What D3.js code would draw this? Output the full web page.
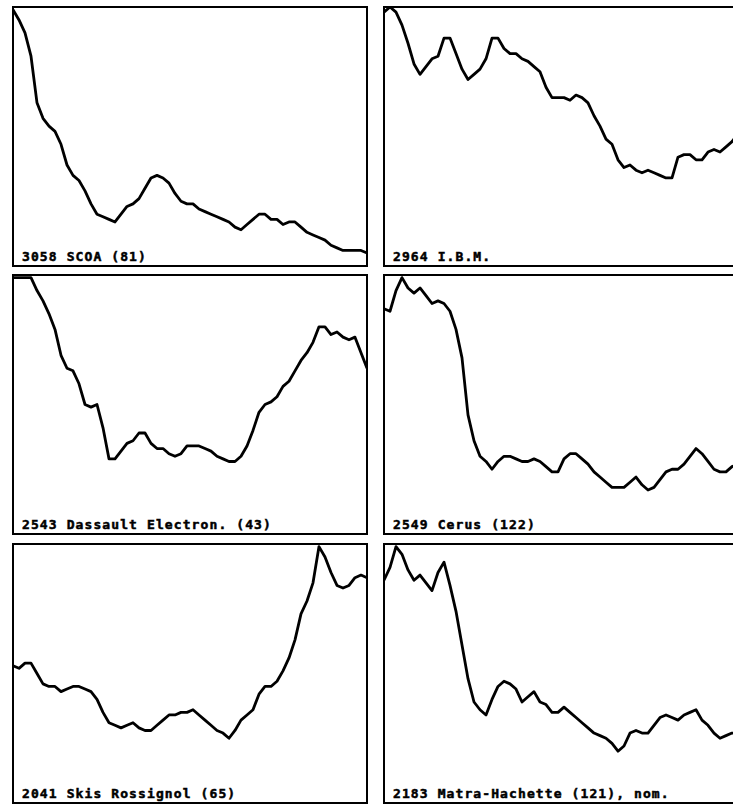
<!DOCTYPE html>
<html>
<head>
<meta charset="utf-8">
<script src="https://cdn.jsdelivr.net/npm/d3@7"></script>
<style>
  body { margin: 0; background: #fff; }
</style>
</head>
<body>
<div id="chart"></div>
<script>
// Panel titles, in reading order (left-right, top-bottom)
var titles = [
    "3058 SCOA (81)",
    "2964 I.B.M.",
    "2543 Dassault Electron. (43)",
    "2549 Cerus (122)",
    "2041 Skis Rossignol (65)",
    "2183 Matra-Hachette (121), nom."
];

// Each series: price level as % of panel height, equally spaced in time
var scoa = [99, 95, 90, 81, 63, 57, 54, 52, 47, 39, 35, 33, 29, 24, 20, 19, 18, 17, 20, 23,
    24, 26, 30, 34, 35, 34, 32, 28, 25, 24, 24, 22, 21, 20, 19, 18, 17, 15, 14, 16,
    18, 20, 20, 18, 18, 16, 17, 17, 15, 13, 12, 11, 10, 8, 7, 6, 6, 6, 6, 5];

var ibm = [98, 100, 98, 93, 86, 78, 74, 77, 80, 81, 88, 88, 82, 76, 72, 74, 76, 80, 88, 88,
    84, 82, 82, 80, 79, 77, 75, 69, 65, 65, 65, 64, 66, 65, 63, 58, 54, 49, 47, 41,
    38, 39, 37, 36, 37, 36, 35, 34, 34, 42, 43, 43, 41, 41, 44, 45, 44, 46, 48, 51];

var dassault = [99, 99, 99, 99, 94, 90, 85, 79, 69, 64, 63, 58, 50, 49, 50, 41, 29, 29, 32, 35,
    36, 39, 39, 35, 33, 33, 31, 30, 31, 34, 34, 34, 33, 32, 30, 29, 28, 28, 30, 34,
    40, 47, 50, 51, 53, 57, 59, 63, 67, 70, 74, 80, 80, 77, 78, 76, 75, 76, 70, 64];

var cerus = [87, 86, 94, 99, 95, 93, 95, 92, 89, 90, 89, 86, 79, 68, 46, 36, 30, 28, 25, 28,
    30, 30, 29, 28, 28, 29, 28, 26, 24, 24, 29, 31, 31, 29, 27, 24, 22, 20, 18, 18,
    18, 20, 22, 19, 17, 18, 21, 24, 25, 25, 27, 30, 33, 31, 28, 25, 24, 24, 26, 27];

var rossignol = [53, 52, 54, 54, 50, 46, 45, 45, 43, 44, 45, 45, 44, 43, 40, 35, 31, 30, 29, 30,
    31, 29, 28, 28, 30, 32, 34, 34, 35, 35, 36, 34, 32, 30, 28, 27, 25, 28, 32, 34,
    36, 42, 45, 45, 47, 51, 56, 63, 73, 78, 85, 99, 95, 89, 84, 83, 84, 87, 88, 87];

var matra = [86, 91, 99, 96, 90, 86, 88, 85, 82, 89, 93, 84, 74, 61, 48, 39, 36, 34, 40, 45,
    47, 46, 44, 39, 41, 43, 39, 38, 35, 35, 37, 35, 33, 31, 29, 27, 26, 25, 23, 20,
    22, 27, 28, 27, 27, 30, 33, 34, 33, 32, 34, 35, 36, 32, 30, 27, 25, 26, 27, 27];

var series = [scoa, ibm, dassault, cerus, rossignol, matra];

var width = 733,
    height = 804,
    colLeft = [13, 384],
    rowTop = [7, 275, 544],
    panelW = 354,
    panelH = 259;

var svg = d3.select('#chart')
    .append('svg')
    .attr("width", width)
    .attr("height", height);

var y = d3.scaleLinear().domain([0, 100]).range([panelH, 0]);

series.forEach(function (values, i) {
    var col = i % 2,
        row = Math.floor(i / 2);

    var x = d3.scaleLinear()
        .domain([0, values.length - 1])
        .range([0, panelW]);

    var g = svg.append('g')
        .attr('transform', 'translate(' + colLeft[col] + ',' + rowTop[row] + ')');

    g.append('clipPath')
        .attr('id', 'clip' + i)
        .append('rect')
        .attr('width', panelW)
        .attr('height', panelH);

    var line = d3.line()
        .x(function (d, j) { return x(j); })
        .y(function (d) { return y(d); });

    g.append('path')
        .datum(values)
        .attr('clip-path', 'url(#clip' + i + ')')
        .attr('d', line)
        .attr('fill', 'none')
        .attr('stroke', '#000')
        .attr('stroke-width', 2.8)
        .attr('stroke-linejoin', 'round');

    g.append('rect')
        .attr('width', panelW)
        .attr('height', panelH)
        .attr('fill', 'none')
        .attr('stroke', '#000')
        .attr('stroke-width', 2);

    g.append('text')
        .text(titles[i])
        .attr('x', 9)
        .attr('y', panelH - 5)
        .attr('fill', '#000')
        .attr('stroke', '#000')
        .attr('stroke-width', 0.5)
        .style('font', 'bold 13px "DejaVu Sans Mono", monospace')
        .style('letter-spacing', '1.1px');
});
</script>
</body>
</html>
